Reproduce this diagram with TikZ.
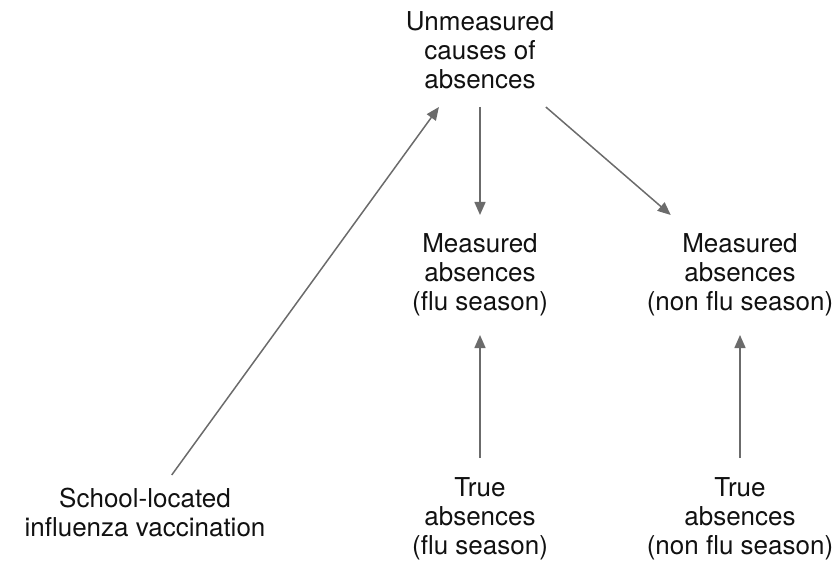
\documentclass[tikz,border=0pt]{standalone}
\usepackage{fontspec}
\setmainfont{TeX Gyre Heros}
\usetikzlibrary{arrows.meta}
\definecolor{linegray}{HTML}{6B6B6B}
\definecolor{txt}{HTML}{111111}
\tikzset{
  lbl/.style={align=center, inner sep=0pt, outer sep=0pt, text=txt,
    font=\fontsize{26}{29}\selectfont},
  conn/.style={draw=linegray, line width=1.5pt,
    -{Triangle[length=13pt,width=11pt]}}
}
\begin{document}
\begin{tikzpicture}[x=1pt,y=-1pt]
\useasboundingbox (0,0) rectangle (835,564);
\node[lbl, minimum height=114pt] (U) at (480,50) {Unmeasured\\causes of\\absences};
\node[lbl, minimum height=120pt] (M1) at (480,275) {Measured\\absences\\(flu season)};
\node[lbl, minimum height=120pt] (M2) at (740,275) {Measured\\absences\\(non flu season)};
\node[lbl, minimum height=74pt] (S) at (145,512) {School-located\\influenza vaccination};
\node[lbl, minimum height=122pt] (T1) at (480,519) {True\\absences\\(flu season)};
\node[lbl, minimum height=122pt] (T2) at (740,519) {True\\absences\\(non flu season)};
\draw[conn] (S) -- (U);
\draw[conn] (U) -- (M1);
\draw[conn] (U) -- (M2);
\draw[conn] (T1) -- (M1);
\draw[conn] (T2) -- (M2);
\end{tikzpicture}
\end{document}
